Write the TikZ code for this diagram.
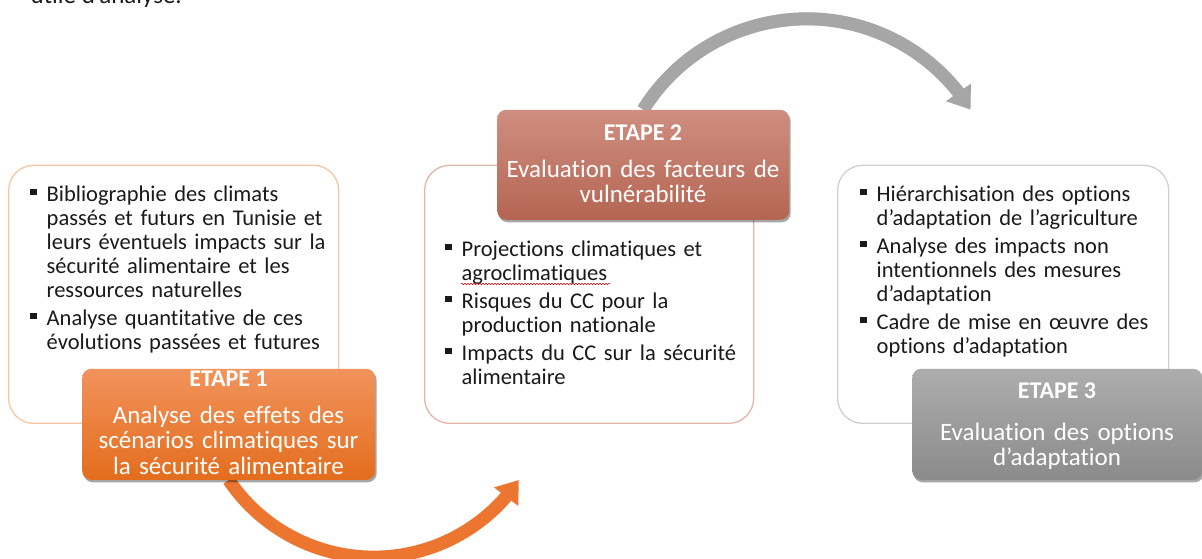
\documentclass[tikz,border=0pt]{standalone}
\usepackage{fontspec}
\setmainfont{Carlito}[Ligatures=NoCommon]
\usetikzlibrary{arrows.meta,bending,shadows,backgrounds,decorations.pathmorphing}
\definecolor{txt}{HTML}{1A1A1A}
\definecolor{b1line}{HTML}{F6C6A2}
\definecolor{b2line}{HTML}{E3B4A9}
\definecolor{b3line}{HTML}{D0D0D0}
\definecolor{e1top}{HTML}{F1935C}
\definecolor{e1bot}{HTML}{E46D1D}
\definecolor{e2top}{HTML}{CF8E80}
\definecolor{e2bot}{HTML}{B56552}
\definecolor{e3top}{HTML}{ADADAD}
\definecolor{e3bot}{HTML}{8B8B8B}
\definecolor{orarrow}{HTML}{EC7630}
\definecolor{grarrow}{HTML}{A6A6A6}
\newcommand\bitem[1]{\par\noindent\hangindent=16.5pt\hangafter=1\makebox[16.5pt][l]{\rule[6.5pt]{6.5pt}{6.5pt}}#1\par}
\newcommand\bsep{\vspace{4pt}}
\begin{document}
\begin{tikzpicture}[x=1pt,y=1pt,
  outbox/.style={draw, line width=1.3pt, rounded corners=25pt, fill=white, inner sep=0pt, anchor=south west},
  fillbox/.style={rounded corners=9pt, inner sep=0pt, anchor=south west,
    drop shadow={shadow xshift=1.5pt, shadow yshift=-2.5pt, opacity=0.35, fill=black}},
  bullettext/.style={anchor=north west, inner sep=0pt, text width=320pt, align=left,
    font=\fontsize{22.5}{24}\selectfont, text=txt},
  titletext/.style={anchor=base, inner sep=0pt, font=\fontsize{24}{25}\selectfont\bfseries, text=white},
  bodytext/.style={anchor=north, inner sep=0pt, text width=290pt, align=center,
    font=\fontsize{25}{25.5}\selectfont, text=white},
  arrowline/.style={line width=13pt, -{Triangle[width=29pt,length=21pt]}}
]
\useasboundingbox (0,0) rectangle (1202,559);

% cut-off heading at the top
\node[anchor=base east, inner sep=0pt, font=\fontsize{25}{30}\selectfont, text=txt] (hd) at (182,555) {utile d’analyse.};

% outline boxes
\node[outbox, draw=b1line, minimum width=330pt, minimum height=258pt] (b1) at (8,135) {};
\node[outbox, draw=b2line, minimum width=329pt, minimum height=258pt] (b2) at (424,135) {};
\node[outbox, draw=b3line, minimum width=331pt, minimum height=258pt] (b3) at (837,135) {};

% bullet texts
\node[bullettext] (t1) at (30,381.5) {%
\bitem{\rule{0pt}{18pt}Bibliographie des climats\newline passés et futurs en Tunisie et\newline leurs éventuels impacts sur la\newline sécurité alimentaire et les\newline ressources naturelles}\bsep
\bitem{Analyse quantitative de ces\newline évolutions passées et futures}};

\node[bullettext] (t2) at (445,326.5) {%
\bitem{\rule{0pt}{18pt}Projections climatiques et\newline agroclimatiques}\bsep
\bitem{Risques du CC pour la\newline production nationale}\bsep
\bitem{Impacts du CC sur la sécurité\newline alimentaire}};

\node[bullettext] (t3) at (860,381.5) {%
\bitem{\rule{0pt}{18pt}Hiérarchisation des options\newline d’adaptation de l’agriculture}\bsep
\bitem{Analyse des impacts non\newline intentionnels des mesures\newline d’adaptation}\bsep
\bitem{Cadre de mise en œuvre des\newline options d’adaptation}};

% spelling squiggle
\draw[decorate, decoration={snake, amplitude=0.7pt, segment length=3pt}, red!80!black, line width=0.5pt]
  (461,275) -- (610,275);

% filled step boxes
\node[fillbox, top color=e1top, bottom color=e1bot, minimum width=293pt, minimum height=111pt] (e1) at (82,79) {};
\node[fillbox, top color=e2top, bottom color=e2bot, minimum width=292pt, minimum height=110pt] (e2) at (497,339) {};
\node[fillbox, top color=e3top, bottom color=e3bot, minimum width=290pt, minimum height=111pt] (e3) at (912,79) {};

\node[titletext] (e1t) at (228.5,172) {ETAPE 1};
\node[bodytext] (e1b) at (228.5,155) {\rule{0pt}{19pt}Analyse des effets des\\scénarios climatiques sur\\la sécurité alimentaire};

\node[titletext] (e2t) at (643,418) {ETAPE 2};
\node[bodytext] (e2b) at (643,401) {\rule{0pt}{19pt}Evaluation des facteurs de\\vulnérabilité};

\node[titletext] (e3t) at (1057,160) {ETAPE 3};
\node[bodytext] (e3b) at (1057,138) {\rule{0pt}{19pt}Evaluation des options\\d’adaptation};

% curved arrows
\begin{scope}[on background layer]
  \draw[arrowline, orarrow] (e1.south) arc[start angle=214, end angle=326, radius=175pt];
  \draw[arrowline, black, opacity=0.15, yshift=-2pt] (e2.north) arc[start angle=148, end angle=32, radius=193pt];
  \draw[arrowline, grarrow] (e2.north) arc[start angle=148, end angle=32, radius=193pt];
\end{scope}
\end{tikzpicture}
\end{document}
